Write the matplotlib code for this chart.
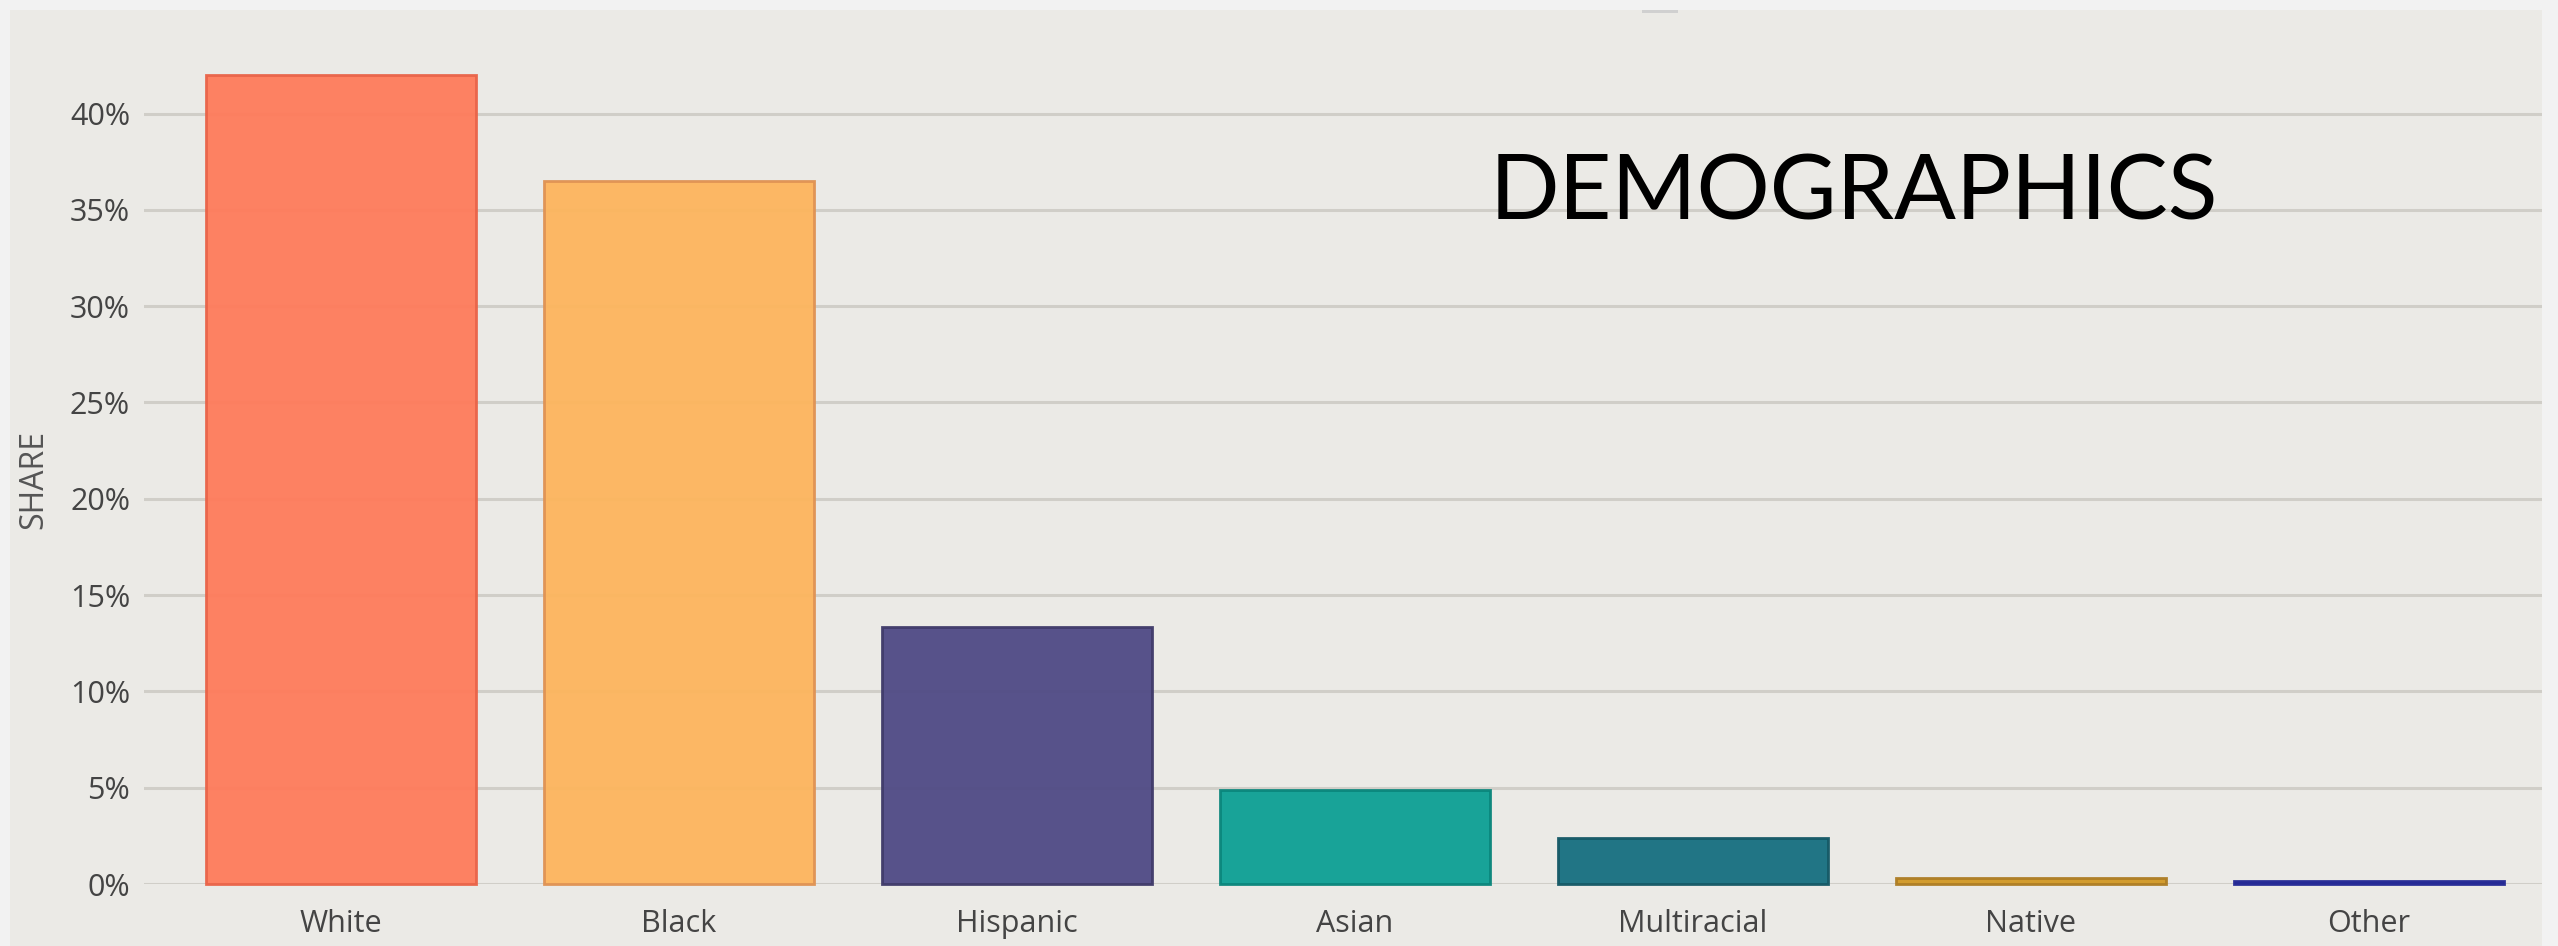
import matplotlib
matplotlib.use("Agg")
import matplotlib.pyplot as plt
from matplotlib.patches import Rectangle
from matplotlib.ticker import FuncFormatter
from matplotlib.colors import to_rgb

categories = ["White", "Black", "Hispanic", "Asian", "Multiracial", "Native", "Other"]
shares = [42.0, 36.5, 13.35, 4.9, 2.4, 0.3, 0.15]
fill_colors = ["#FE8162", "#FCB864", "#57528A", "#17A398", "#217585", "#D29C2F", "#2E3399"]
edge_colors = ["#E96A50", "#E0965A", "#48436F", "#148A80", "#1F5F6B", "#B0822E", "#2E3399"]
yticks = [0, 5, 10, 15, 20, 25, 30, 35, 40]
title_text = "DEMOGRAPHICS"
ylabel_text = "SHARE"

W, H = 2558, 946
BG = "#EBEAE6"
ALPHA = 0.95


def compensate(c):
    # colour that, drawn with ALPHA over BG, appears as c
    o = to_rgb(c)
    b = to_rgb(BG)
    return tuple(min(1, max(0, (oi - (1 - ALPHA) * bi) / ALPHA)) for oi, bi in zip(o, b))


fig = plt.figure(figsize=(W / 100, H / 100), dpi=100)
fig.patch.set_facecolor("#F2F2F2")

panel = Rectangle((10 / W, 0), (2542 - 10) / W, (H - 10) / H, transform=fig.transFigure,
                  facecolor=BG, edgecolor="none", zorder=-5)
fig.patches.append(panel)
tab = Rectangle((1642 / W, (H - 13) / H), 36 / W, 3 / H, transform=fig.transFigure,
                facecolor="#D0D0D0", edgecolor="none", zorder=-4)
fig.patches.append(tab)

left = 144 / W
right = 2542 / W
bottom = (H - 884) / H
top = (H - 17.3) / H
ax = fig.add_axes([left, bottom, right - left, top - bottom])
ax.set_zorder(2)
ax.set_facecolor("none")

x = list(range(len(categories)))
ax.bar(x, shares, width=0.8,
       color=[compensate(c) for c in fill_colors],
       edgecolor=[compensate(c) for c in edge_colors],
       linewidth=2.0, alpha=ALPHA, zorder=3, clip_on=False)

ax.set_xlim(-0.583, 6.512)
ax.set_ylim(0, 45)
ax.set_yticks(yticks)
ax.yaxis.set_major_formatter(FuncFormatter(lambda v, p: f"{int(v)}%"))
ax.set_xticks(x)
ax.set_xticklabels(categories)

ax.grid(axis="y", color="#D0CEC8", linewidth=2.2, zorder=1)
ax.grid(axis="x", visible=False)
ax.set_axisbelow(True)
for s in ax.spines.values():
    s.set_visible(False)

lab_font = "Open Sans"
ax.tick_params(axis="both", length=0, labelsize=22, labelcolor="#444444")
ax.tick_params(axis="y", pad=10)
ax.tick_params(axis="x", pad=18)
for lab in ax.get_xticklabels() + ax.get_yticklabels():
    lab.set_fontfamily(lab_font)

fig.text(34 / W, (H - 479) / H, ylabel_text, rotation=90, ha="center", va="center",
         fontsize=23, color="#555555", fontfamily=lab_font, zorder=3)

fig.text(1854 / W, (H - 220) / H, title_text, ha="center", va="baseline",
         fontsize=66, color="#000000", fontfamily="Lato", zorder=3)

fig.savefig("out.png", dpi=100, facecolor=fig.get_facecolor())
